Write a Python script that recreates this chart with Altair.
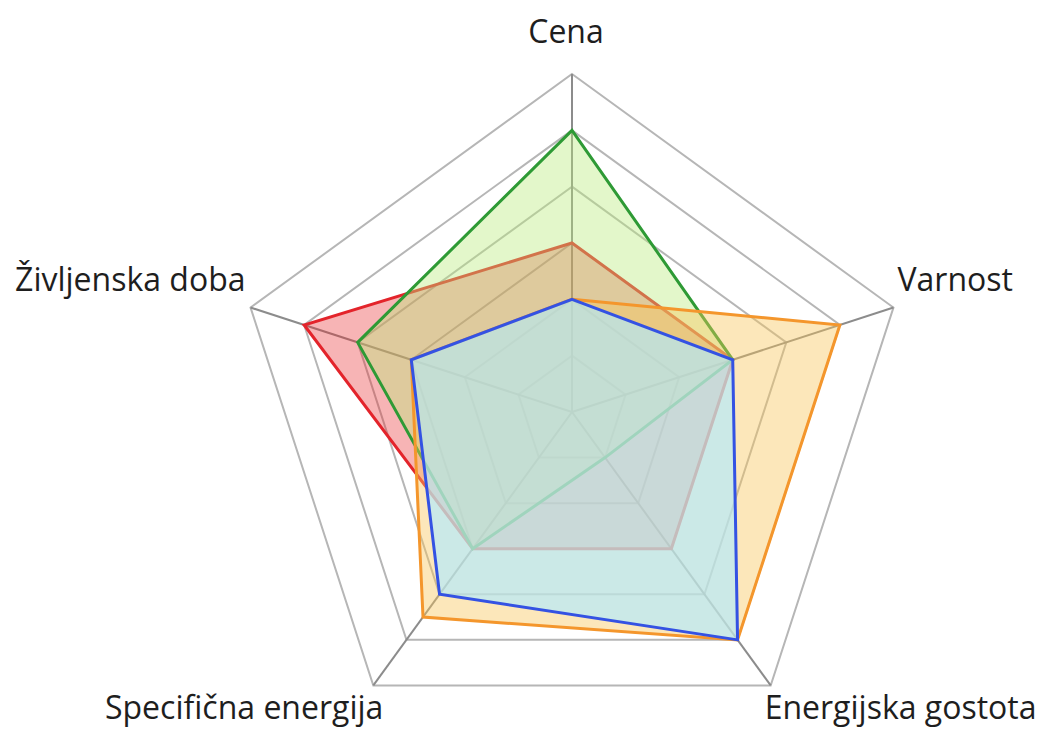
import altair as alt
import pandas as pd

# ---- data -------------------------------------------------------------
categories = ["Cena", "Varnost", "Energijska gostota", "Specifična energija", "Življenska doba"]
series_names = ["Serija 1", "Serija 2", "Serija 3", "Serija 4"]
series_red = [3, 3, 3, 3, 5]
series_green = [5, 3, 1, 3, 4]
series_orange = [2, 5, 5, 4.5, 3]
series_blue = [2, 3, 5, 4, 3]
grid_levels = [1, 2, 3, 4, 5, 6]
max_level = 6

# ---- styles ---------------------------------------------------------
line_colors = ["#e3242b", "#2e9a35", "#f4962c", "#3452e3"]
fill_colors = ["#e8282a", "#b8ea7a", "#f9c65a", "#b0eaff"]
fill_opacity = [0.35, 0.4, 0.42, 0.65]
FONT = "Open Sans"

# ---- layout (pixels) --------------------------------------------------
W, H = 1030, 720
CX, CY, R = 564, 404, 338
xscale = alt.Scale(domain=[-CX / R, (W - CX) / R], nice=False, zero=False)
yscale = alt.Scale(domain=[-(H - CY) / R, CY / R], nice=False, zero=False)

N = len(categories)
all_series = [series_red, series_green, series_orange, series_blue]

rows = []
for name, vals in zip(series_names, all_series):
    for i, (c, v) in enumerate(zip(categories, vals)):
        rows.append({"series": name, "cat": c, "idx": i, "value": v})
df = pd.DataFrame(rows)

grid_rows = [{"level": lv, "idx": i, "value": lv} for lv in grid_levels for i in range(N)]
df_grid = pd.DataFrame(grid_rows)
df_cat = pd.DataFrame({"cat": categories, "idx": list(range(N)), "value": [max_level] * N})

ANG = f"datum.idx * 2 * PI / {N}"
XEXPR = f"datum.value / {max_level} * sin({ANG})"
YEXPR = f"datum.value / {max_level} * cos({ANG})"

X = alt.X("x:Q", scale=xscale, axis=None)
Y = alt.Y("y:Q", scale=yscale, axis=None)

grid = (
    alt.Chart(df_grid)
    .transform_calculate(x=XEXPR, y=YEXPR)
    .mark_line(interpolate="linear-closed", stroke="#b6b6b6", strokeWidth=2)
    .encode(x=X, y=Y, detail="level:N", order=alt.Order("idx:Q"))
)

spokes = (
    alt.Chart(df_cat)
    .transform_calculate(x=XEXPR, y=YEXPR, x0="0", y0="0")
    .mark_rule(stroke="#8c8c8c", strokeWidth=2)
    .encode(
        x=alt.X("x0:Q", scale=xscale, axis=None),
        y=alt.Y("y0:Q", scale=yscale, axis=None),
        x2="x:Q",
        y2="y:Q",
    )
)

layers = [grid, spokes]
for k, name in enumerate(series_names):
    layers.append(
        alt.Chart(df)
        .transform_filter(alt.datum.series == name)
        .transform_calculate(x=XEXPR, y=YEXPR)
        .mark_line(
            interpolate="linear-closed",
            stroke=line_colors[k],
            strokeWidth=3,
            fill=fill_colors[k],
            fillOpacity=fill_opacity[k],
            strokeJoin="miter",
        )
        .encode(x=X, y=Y, order=alt.Order("idx:Q"))
    )

label_style = {
    "Cena": dict(align="center", dx=-6, dy=-31),
    "Varnost": dict(align="left", dx=4, dy=-17),
    "Energijska gostota": dict(align="left", dx=-6, dy=34),
    "Specifična energija": dict(align="right", dx=10, dy=34),
    "Življenska doba": dict(align="right", dx=-5, dy=-17),
}
for c in categories:
    st = label_style[c]
    layers.append(
        alt.Chart(df_cat)
        .transform_filter(alt.datum.cat == c)
        .transform_calculate(x=XEXPR, y=YEXPR)
        .mark_text(
            font=FONT, fontSize=32, color="#1e1e1e", baseline="alphabetic",
            align=st["align"], dx=st["dx"], dy=st["dy"],
        )
        .encode(x=X, y=Y, text="cat:N")
    )

chart = (
    alt.layer(*layers)
    .properties(width=W, height=H, padding=0, background="white")
    .configure_view(stroke=None)
)

chart.save("out.html", embed_options={"renderer": "svg", "actions": False})
